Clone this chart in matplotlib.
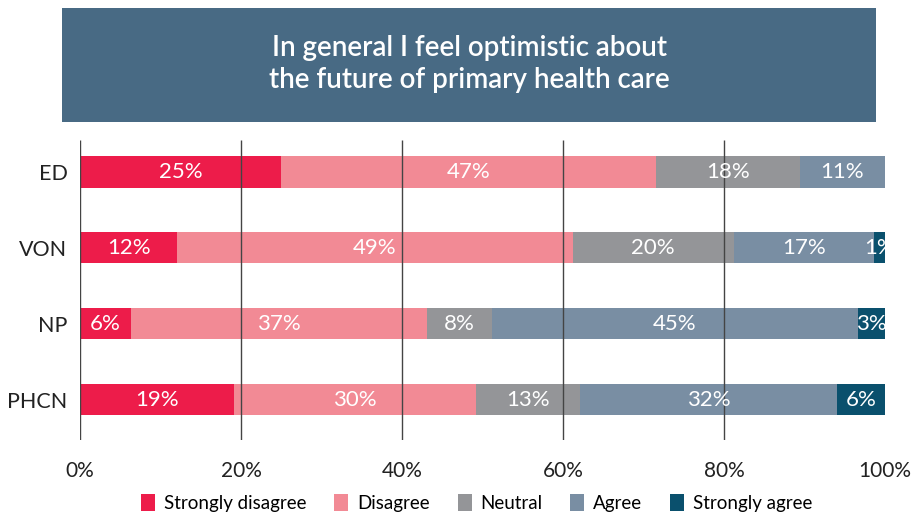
import numpy as np
import matplotlib.pyplot as plt
from matplotlib.patches import Rectangle, Patch

plt.rcParams['font.family'] = ['Lato', 'DejaVu Sans']

# datos de la encuesta (porcentajes por grupo)
grupos = ["ED", "VON", "NP", "PHCN"]
respuestas = ["Strongly disagree", "Disagree", "Neutral", "Agree", "Strongly agree"]
strongly_disagree = [25.0, 12.1, 6.3, 19.1]
disagree = [46.6, 49.1, 36.8, 30.1]
neutral = [17.8, 20.0, 8.1, 12.9]
agree = [10.6, 17.4, 45.4, 31.9]
strongly_agree = [0.0, 1.4, 3.4, 6.0]
colores = ["#ed1c4a", "#f28a95", "#949598", "#798ea3", "#0a506d"]
ticks = [0, 20, 40, 60, 80, 100]
titulo = "In general I feel optimistic about\nthe future of primary health care"

series = [strongly_disagree, disagree, neutral, agree, strongly_agree]

fig = plt.figure(figsize=(9.2, 5.17), dpi=100)
ax = fig.add_axes([0.087, 0.149, 0.875, 0.580])

# caja del título
fig.patches.append(Rectangle((0.0674, 0.764), 0.885, 0.2205, transform=fig.transFigure,
                             facecolor="#486a84", edgecolor="none", zorder=0))
fig.text(0.51, 0.876, titulo, ha="center", va="center", color="white",
         fontsize=20, fontweight="semibold", linespacing=1.28)

y = np.arange(len(grupos))
izq = np.zeros(len(grupos))
for nombre, vals, c in zip(respuestas, series, colores):
    vals = np.array(vals)
    ax.barh(y, vals, left=izq, height=0.41, color=c, label=nombre, zorder=1)
    for yi, l, v in zip(y, izq, vals):
        if v > 0:
            ax.text(l + v / 2, yi, "%d%%" % round(v), ha="center", va="center",
                    color="white", fontsize=16, zorder=4)
    izq = izq + vals

# líneas verticales de referencia (sin la de 100%)
ax.vlines(ticks[:-1], -0.42, 3.53, color="#444444", linewidth=1.0, zorder=3)

ax.set_xlim(0, 100)
ax.set_ylim(3.53, -0.42)
ax.set_yticks(y)
ax.set_yticklabels(grupos, fontsize=15.5, color="#222222")
ax.set_xticks(ticks)
ax.set_xticklabels(["%d%%" % t for t in ticks], fontsize=15, color="#222222")
ax.tick_params(axis="both", length=0)
ax.tick_params(axis="x", pad=15)
ax.tick_params(axis="y", pad=9)
for s in ax.spines.values():
    s.set_visible(False)

manijas = [Patch(facecolor=c, edgecolor="none") for c in colores]
fig.legend(manijas, respuestas, loc="center", bbox_to_anchor=(0.518, 0.027), ncol=5,
           frameon=False, fontsize=13.5, handlelength=0.75, handleheight=1.0,
           handletextpad=0.45, columnspacing=1.5)

plt.savefig("out.png", dpi=100)
